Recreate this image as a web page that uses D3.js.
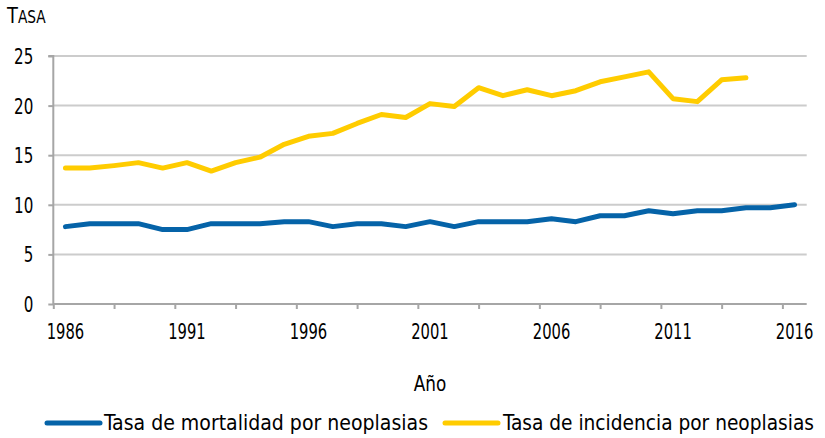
<!DOCTYPE html>
<html><head><meta charset="utf-8">
<script src="https://cdn.jsdelivr.net/npm/d3@7"></script>
<style>
body{margin:0;background:#fff;}
text{font-family:"DejaVu Sans Condensed","DejaVu Sans",sans-serif;font-stretch:condensed;fill:#000;}
</style></head>
<body><svg id="c" width="825" height="438"></svg>
<script>
const years = d3.range(1986, 2017);
const mortalidad = [7.8,8.1,8.1,8.1,7.5,7.5,8.1,8.1,8.1,8.3,8.3,7.8,8.1,8.1,7.8,8.3,7.8,8.3,8.3,8.3,8.6,8.3,8.9,8.9,9.4,9.1,9.4,9.4,9.7,9.7,10.0];
const incidencia = [13.7,13.7,13.95,14.25,13.7,14.25,13.4,14.25,14.8,16.1,16.9,17.2,18.2,19.1,18.8,20.2,19.9,21.8,21.0,21.6,21.0,21.5,22.4,22.9,23.4,20.7,20.4,22.6,22.8,null,null];
const yTicks = [0,5,10,15,20,25];
const xLabels = [1986,1991,1996,2001,2006,2011,2016];
const seriesNames = ["Tasa de mortalidad por neoplasias","Tasa de incidencia por neoplasias"];
const colors = ["#0563a8","#ffcc00"];

const svg = d3.select("#c");
const pL = 53.3, pR = 806.7, pT = 56, pB = 304;
const x = d3.scaleLinear().domain([1985.5, 2016.5]).range([pL, pR]);
const y = d3.scaleLinear().domain([0, 25]).range([pB, pT]);

function squeeze(sel, f) {
  sel.each(function() {
    const L = this.getComputedTextLength();
    d3.select(this).attr("textLength", L * f).attr("lengthAdjust", "spacingAndGlyphs");
  });
}

// gridlines
svg.append("g").selectAll("line").data(yTicks.filter(d => d > 0)).join("line")
  .attr("x1", pL).attr("x2", pR).attr("y1", d => y(d)).attr("y2", d => y(d))
  .attr("stroke", "#cccccc").attr("stroke-width", 2);

// y axis
const yAxis = svg.append("g").attr("transform", `translate(${pL},0)`)
  .call(d3.axisLeft(y).tickValues(yTicks).tickSize(5).tickPadding(15));
yAxis.select(".domain").attr("stroke", "#a6a6a6").attr("stroke-width", 2).attr("d", `M-5,${pT}H0V${pB}`);
yAxis.selectAll(".tick line").attr("stroke", "#a6a6a6").attr("stroke-width", 2);
yAxis.selectAll(".tick text").attr("font-size", 21).attr("dy", "0.36em");
squeeze(yAxis.selectAll(".tick text"), 0.8);

// x axis
const xTickVals = d3.range(0, 13).map(k => 1985.5 + 2.5 * k);
const xAxis = svg.append("g").attr("transform", `translate(0,${pB})`)
  .call(d3.axisBottom(x).tickValues(xTickVals).tickSize(5).tickFormat(""));
xAxis.select(".domain").attr("stroke", "#a6a6a6").attr("stroke-width", 2).attr("d", `M${pL},0H${pR}`);
xAxis.selectAll(".tick line").attr("stroke", "#a6a6a6").attr("stroke-width", 2);
const xl = svg.append("g").selectAll("text").data(xLabels).join("text")
  .attr("x", d => x(d)).attr("y", 339).attr("text-anchor", "middle")
  .attr("font-size", 21).text(d => d);
squeeze(xl, 0.78);

// lines
const line = d3.line().defined(d => d[1] != null).x(d => x(d[0])).y(d => y(d[1]));
[mortalidad, incidencia].forEach((s, i) => {
  svg.append("path").datum(years.map((yr, j) => [yr, s[j]]))
    .attr("d", line).attr("fill", "none").attr("stroke", colors[i])
    .attr("stroke-width", 5).attr("stroke-linejoin", "round").attr("stroke-linecap", "round");
});

// titles
const t = svg.append("text").attr("x", 7).attr("y", 23).attr("font-size", 22);
t.append("tspan").text("T");
t.append("tspan").attr("font-size", 17).text("ASA");
squeeze(t, 0.9);
const ax = svg.append("text").attr("x", 430).attr("y", 391).attr("text-anchor", "middle").attr("font-size", 22).text("Año");
squeeze(ax, 0.85);

// legend
const legX = [[47,100,104,428],[445,498,503,814]];
seriesNames.forEach((n, i) => {
  const [l1, l2, tx, te] = legX[i];
  svg.append("line").attr("x1", l1).attr("x2", l2).attr("y1", 423).attr("y2", 423)
    .attr("stroke", colors[i]).attr("stroke-width", 5).attr("stroke-linecap", "round");
  svg.append("text").attr("x", tx).attr("y", 430).attr("font-size", 21)
    .attr("textLength", te - tx).attr("lengthAdjust", "spacingAndGlyphs").text(n);
});
</script></body></html>
